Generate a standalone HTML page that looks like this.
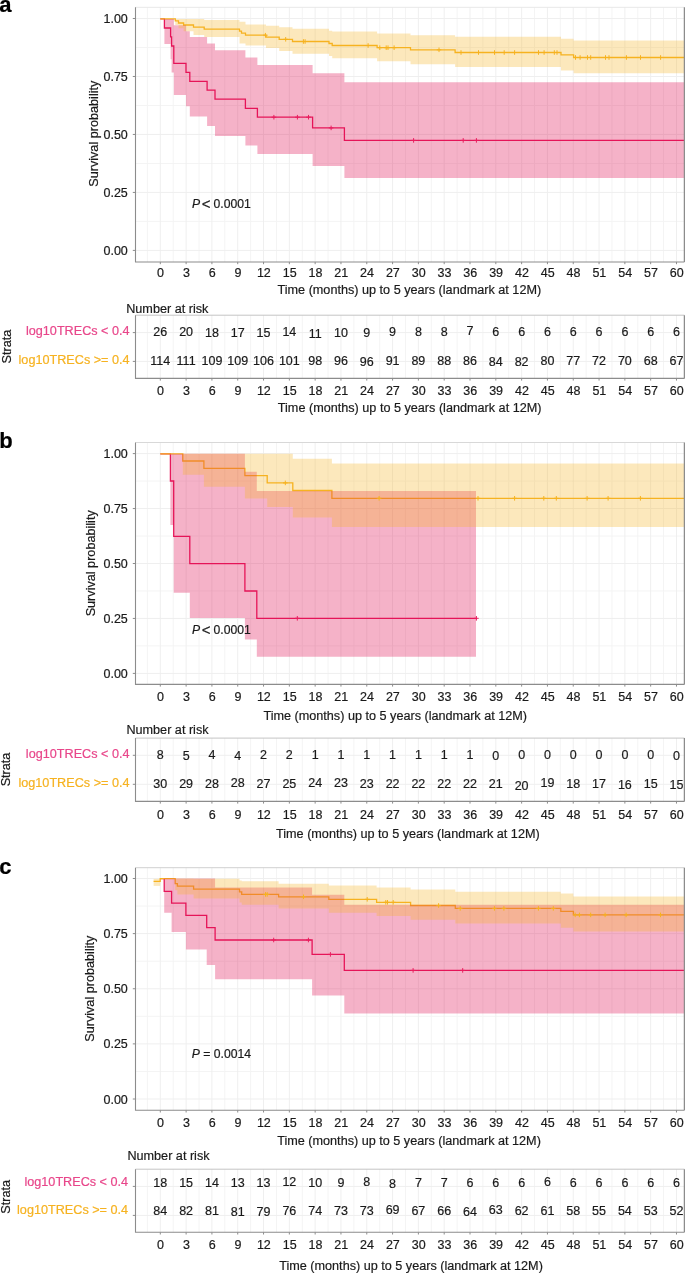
<!DOCTYPE html>
<html><head><meta charset="utf-8"><style>
html,body{margin:0;padding:0;background:#fff;}
svg{display:block;font-family:"Liberation Sans",sans-serif;will-change:transform;}
</style></head><body>
<svg width="685" height="1273" viewBox="0 0 685 1273">
<text x="-0.7" y="11.8" font-size="22" font-weight="bold" fill="#000" stroke="#000" stroke-width="0.2">a</text>
<path d="M147.40,7.3V262.0M173.20,7.3V262.0M199.01,7.3V262.0M224.82,7.3V262.0M250.63,7.3V262.0M276.44,7.3V262.0M302.25,7.3V262.0M328.06,7.3V262.0M353.87,7.3V262.0M379.68,7.3V262.0M405.49,7.3V262.0M431.29,7.3V262.0M457.10,7.3V262.0M482.91,7.3V262.0M508.72,7.3V262.0M534.53,7.3V262.0M560.34,7.3V262.0M586.15,7.3V262.0M611.96,7.3V262.0M637.77,7.3V262.0M663.58,7.3V262.0M135.5,221.41H684.4M135.5,163.44H684.4M135.5,105.46H684.4M135.5,47.49H684.4" stroke="#F4F4F4" stroke-width="1" fill="none"/>
<path d="M160.30,7.3V262.0M186.11,7.3V262.0M211.92,7.3V262.0M237.73,7.3V262.0M263.54,7.3V262.0M289.35,7.3V262.0M315.15,7.3V262.0M340.96,7.3V262.0M366.77,7.3V262.0M392.58,7.3V262.0M418.39,7.3V262.0M444.20,7.3V262.0M470.01,7.3V262.0M495.82,7.3V262.0M521.63,7.3V262.0M547.43,7.3V262.0M573.24,7.3V262.0M599.05,7.3V262.0M624.86,7.3V262.0M650.67,7.3V262.0M676.48,7.3V262.0M135.5,250.40H684.4M135.5,192.43H684.4M135.5,134.45H684.4M135.5,76.47H684.4M135.5,18.50H684.4" stroke="#EFEFEF" stroke-width="1" fill="none"/>
<g transform="translate(0,0.4)">
<path d="M160.30,18.50 L164.40,18.50 L164.40,27.60 L170.60,27.60 L170.60,36.40 L171.60,36.40 L171.60,45.60 L173.80,45.60 L173.80,62.90 L186.00,62.90 L186.00,72.00 L189.80,72.00 L189.80,81.00 L207.10,81.00 L207.10,89.80 L215.00,89.80 L215.00,98.80 L245.40,98.80 L245.40,107.90 L257.40,107.90 L257.40,116.80 L312.60,116.80 L312.60,127.50 L344.40,127.50 L344.40,140.00 L684.00,140.00" stroke="#E91E5F" stroke-width="1.3" fill="none"/>
<path d="M160.30,18.50 L175.30,18.50 L175.30,20.50 L178.50,20.50 L178.50,22.60 L183.60,22.60 L183.60,24.60 L193.50,24.60 L193.50,26.80 L204.20,26.80 L204.20,28.80 L239.50,28.80 L239.50,30.80 L241.50,30.80 L241.50,32.70 L245.50,32.70 L245.50,34.80 L266.00,34.80 L266.00,36.80 L279.20,36.80 L279.20,38.90 L292.50,38.90 L292.50,41.10 L329.00,41.10 L329.00,43.10 L332.20,43.10 L332.20,45.10 L377.10,45.10 L377.10,47.30 L410.50,47.30 L410.50,49.40 L455.10,49.40 L455.10,52.10 L561.00,52.10 L561.00,54.40 L573.60,54.40 L573.60,57.10 L684.00,57.10" stroke="#F6B220" stroke-width="1.3" fill="none"/>
<path d="M164.40,18.50 L170.60,18.50 L170.60,18.50 L171.60,18.50 L171.60,18.50 L173.80,18.50 L173.80,24.90 L186.00,24.90 L186.00,30.80 L189.80,30.80 L189.80,36.60 L207.10,36.60 L207.10,43.00 L215.00,43.00 L215.00,49.80 L245.40,49.80 L245.40,57.00 L257.40,57.00 L257.40,64.50 L312.60,64.50 L312.60,72.80 L344.40,72.80 L344.40,81.90 L684.00,81.90 L684.00,177.70 L344.40,177.70 L344.40,165.50 L312.60,165.50 L312.60,153.70 L257.40,153.70 L257.40,145.00 L245.40,145.00 L245.40,135.70 L215.00,135.70 L215.00,125.70 L207.10,125.70 L207.10,116.00 L189.80,116.00 L189.80,105.80 L186.00,105.80 L186.00,94.70 L173.80,94.70 L173.80,72.00 L171.60,72.00 L171.60,58.80 L170.60,58.80 L170.60,43.60 L164.40,43.60Z" fill="#DE0048" fill-opacity="0.3"/>
<path d="M175.30,18.50 L178.50,18.50 L178.50,18.50 L183.60,18.50 L183.60,18.50 L193.50,18.50 L193.50,18.50 L204.20,18.50 L204.20,19.70 L239.50,19.70 L239.50,21.40 L245.50,21.40 L245.50,24.10 L266.00,24.10 L266.00,25.30 L279.20,25.30 L279.20,26.80 L292.50,26.80 L292.50,28.40 L329.00,28.40 L329.00,30.30 L332.20,30.30 L332.20,31.10 L377.10,31.10 L377.10,33.10 L410.50,33.10 L410.50,34.90 L455.10,34.90 L455.10,36.30 L561.00,36.30 L561.00,38.30 L573.60,38.30 L573.60,40.20 L684.00,40.20 L684.00,72.80 L573.60,72.80 L573.60,70.00 L561.00,70.00 L561.00,66.50 L455.10,66.50 L455.10,63.80 L410.50,63.80 L410.50,60.90 L377.10,60.90 L377.10,57.90 L332.20,57.90 L332.20,55.60 L329.00,55.60 L329.00,53.30 L292.50,53.30 L292.50,50.60 L279.20,50.60 L279.20,47.70 L266.00,47.70 L266.00,45.10 L245.50,45.10 L245.50,43.00 L239.50,43.00 L239.50,36.60 L204.20,36.60 L204.20,34.50 L193.50,34.50 L193.50,30.90 L183.60,30.90 L183.60,27.80 L178.50,27.80 L178.50,24.50 L175.30,24.50Z" fill="#F6B220" fill-opacity="0.3"/>
<path d="M273.90,114.50v4.6M271.60,116.80h4.6M297.40,114.50v4.6M295.10,116.80h4.6M308.50,114.50v4.6M306.20,116.80h4.6M331.10,125.20v4.6M328.80,127.50h4.6M413.60,137.70v4.6M411.30,140.00h4.6M463.20,137.70v4.6M460.90,140.00h4.6M476.40,137.70v4.6M474.10,140.00h4.6" stroke="#E91E5F" stroke-width="1.0" fill="none"/>
<path d="M265.40,32.50v4.6M263.10,34.80h4.6M285.70,36.60v4.6M283.40,38.90h4.6M303.40,38.80v4.6M301.10,41.10h4.6M305.10,38.80v4.6M302.80,41.10h4.6M368.10,42.80v4.6M365.80,45.10h4.6M379.80,45.00v4.6M377.50,47.30h4.6M386.20,45.00v4.6M383.90,47.30h4.6M388.00,45.00v4.6M385.70,47.30h4.6M394.10,45.00v4.6M391.80,47.30h4.6M439.00,47.10v4.6M436.70,49.40h4.6M461.00,49.80v4.6M458.70,52.10h4.6M478.50,49.80v4.6M476.20,52.10h4.6M494.50,49.80v4.6M492.20,52.10h4.6M504.20,49.80v4.6M501.90,52.10h4.6M514.60,49.80v4.6M512.30,52.10h4.6M538.50,49.80v4.6M536.20,52.10h4.6M544.10,49.80v4.6M541.80,52.10h4.6M554.30,49.80v4.6M552.00,52.10h4.6M557.00,49.80v4.6M554.70,52.10h4.6M575.50,54.80v4.6M573.20,57.10h4.6M580.10,54.80v4.6M577.80,57.10h4.6M587.50,54.80v4.6M585.20,57.10h4.6M590.70,54.80v4.6M588.40,57.10h4.6M605.50,54.80v4.6M603.20,57.10h4.6M609.00,54.80v4.6M606.70,57.10h4.6M626.40,54.80v4.6M624.10,57.10h4.6M640.50,54.80v4.6M638.20,57.10h4.6M660.60,54.80v4.6M658.30,57.10h4.6" stroke="#F6B220" stroke-width="1.0" fill="none"/>
</g>
<path d="M135.5,7.3H684.4" stroke="#E8E8E8" stroke-width="1"/>
<path d="M684.4,7.3V262.0" stroke="#8C8C8C" stroke-width="1.3"/>
<path d="M135.5,7.3V262.0H684.4" stroke="#8C8C8C" stroke-width="1.1" fill="none"/>
<text x="127.8" y="254.90" text-anchor="end" font-size="12.5" fill="#1a1a1a" stroke="#1a1a1a" stroke-width="0.2">0.00</text>
<text x="127.8" y="196.93" text-anchor="end" font-size="12.5" fill="#1a1a1a" stroke="#1a1a1a" stroke-width="0.2">0.25</text>
<text x="127.8" y="138.95" text-anchor="end" font-size="12.5" fill="#1a1a1a" stroke="#1a1a1a" stroke-width="0.2">0.50</text>
<text x="127.8" y="80.97" text-anchor="end" font-size="12.5" fill="#1a1a1a" stroke="#1a1a1a" stroke-width="0.2">0.75</text>
<text x="127.8" y="23.00" text-anchor="end" font-size="12.5" fill="#1a1a1a" stroke="#1a1a1a" stroke-width="0.2">1.00</text>
<text x="160.60" y="277.0" text-anchor="middle" font-size="12.5" fill="#1a1a1a" stroke="#1a1a1a" stroke-width="0.2">0</text>
<text x="186.41" y="277.0" text-anchor="middle" font-size="12.5" fill="#1a1a1a" stroke="#1a1a1a" stroke-width="0.2">3</text>
<text x="212.22" y="277.0" text-anchor="middle" font-size="12.5" fill="#1a1a1a" stroke="#1a1a1a" stroke-width="0.2">6</text>
<text x="238.03" y="277.0" text-anchor="middle" font-size="12.5" fill="#1a1a1a" stroke="#1a1a1a" stroke-width="0.2">9</text>
<text x="263.84" y="277.0" text-anchor="middle" font-size="12.5" fill="#1a1a1a" stroke="#1a1a1a" stroke-width="0.2">12</text>
<text x="289.65" y="277.0" text-anchor="middle" font-size="12.5" fill="#1a1a1a" stroke="#1a1a1a" stroke-width="0.2">15</text>
<text x="315.45" y="277.0" text-anchor="middle" font-size="12.5" fill="#1a1a1a" stroke="#1a1a1a" stroke-width="0.2">18</text>
<text x="341.26" y="277.0" text-anchor="middle" font-size="12.5" fill="#1a1a1a" stroke="#1a1a1a" stroke-width="0.2">21</text>
<text x="367.07" y="277.0" text-anchor="middle" font-size="12.5" fill="#1a1a1a" stroke="#1a1a1a" stroke-width="0.2">24</text>
<text x="392.88" y="277.0" text-anchor="middle" font-size="12.5" fill="#1a1a1a" stroke="#1a1a1a" stroke-width="0.2">27</text>
<text x="418.69" y="277.0" text-anchor="middle" font-size="12.5" fill="#1a1a1a" stroke="#1a1a1a" stroke-width="0.2">30</text>
<text x="444.50" y="277.0" text-anchor="middle" font-size="12.5" fill="#1a1a1a" stroke="#1a1a1a" stroke-width="0.2">33</text>
<text x="470.31" y="277.0" text-anchor="middle" font-size="12.5" fill="#1a1a1a" stroke="#1a1a1a" stroke-width="0.2">36</text>
<text x="496.12" y="277.0" text-anchor="middle" font-size="12.5" fill="#1a1a1a" stroke="#1a1a1a" stroke-width="0.2">39</text>
<text x="521.93" y="277.0" text-anchor="middle" font-size="12.5" fill="#1a1a1a" stroke="#1a1a1a" stroke-width="0.2">42</text>
<text x="547.73" y="277.0" text-anchor="middle" font-size="12.5" fill="#1a1a1a" stroke="#1a1a1a" stroke-width="0.2">45</text>
<text x="573.54" y="277.0" text-anchor="middle" font-size="12.5" fill="#1a1a1a" stroke="#1a1a1a" stroke-width="0.2">48</text>
<text x="599.35" y="277.0" text-anchor="middle" font-size="12.5" fill="#1a1a1a" stroke="#1a1a1a" stroke-width="0.2">51</text>
<text x="625.16" y="277.0" text-anchor="middle" font-size="12.5" fill="#1a1a1a" stroke="#1a1a1a" stroke-width="0.2">54</text>
<text x="650.97" y="277.0" text-anchor="middle" font-size="12.5" fill="#1a1a1a" stroke="#1a1a1a" stroke-width="0.2">57</text>
<text x="676.78" y="277.0" text-anchor="middle" font-size="12.5" fill="#1a1a1a" stroke="#1a1a1a" stroke-width="0.2">60</text>
<path d="M132.8,250.40H135.5M132.8,192.43H135.5M132.8,134.45H135.5M132.8,76.47H135.5M132.8,18.50H135.5M160.30,262.0v2.2M186.11,262.0v2.2M211.92,262.0v2.2M237.73,262.0v2.2M263.54,262.0v2.2M289.35,262.0v2.2M315.15,262.0v2.2M340.96,262.0v2.2M366.77,262.0v2.2M392.58,262.0v2.2M418.39,262.0v2.2M444.20,262.0v2.2M470.01,262.0v2.2M495.82,262.0v2.2M521.63,262.0v2.2M547.43,262.0v2.2M573.24,262.0v2.2M599.05,262.0v2.2M624.86,262.0v2.2M650.67,262.0v2.2M676.48,262.0v2.2" stroke="#8C8C8C" stroke-width="1" fill="none"/>
<text x="277.5" y="293.9" font-size="12.65" fill="#1a1a1a" stroke="#1a1a1a" stroke-width="0.2">Time (months) up to 5 years (landmark at 12M)</text>
<text transform="translate(98.0,133.70) rotate(-90)" text-anchor="middle" font-size="12.65" fill="#1a1a1a" stroke="#1a1a1a" stroke-width="0.2">Survival probability</text>
<text x="191.9" y="207.6" font-size="12.2" font-style="italic" fill="#1a1a1a" stroke="#1a1a1a" stroke-width="0.2">P</text>
<text x="206.20000000000002" y="208.6" font-size="15" text-anchor="middle" fill="#1a1a1a" stroke="#1a1a1a" stroke-width="0.2">&lt;</text>
<text x="213.5" y="207.6" font-size="12.2" fill="#1a1a1a" stroke="#1a1a1a" stroke-width="0.2">0.0001</text>
<text x="126.2" y="312.8" font-size="12.65" fill="#1a1a1a" stroke="#1a1a1a" stroke-width="0.2">Number at risk</text>
<path d="M147.40,315.2V378.4M173.20,315.2V378.4M199.01,315.2V378.4M224.82,315.2V378.4M250.63,315.2V378.4M276.44,315.2V378.4M302.25,315.2V378.4M328.06,315.2V378.4M353.87,315.2V378.4M379.68,315.2V378.4M405.49,315.2V378.4M431.29,315.2V378.4M457.10,315.2V378.4M482.91,315.2V378.4M508.72,315.2V378.4M534.53,315.2V378.4M560.34,315.2V378.4M586.15,315.2V378.4M611.96,315.2V378.4M637.77,315.2V378.4M663.58,315.2V378.4" stroke="#F4F4F4" stroke-width="1" fill="none"/>
<path d="M160.30,315.2V378.4M186.11,315.2V378.4M211.92,315.2V378.4M237.73,315.2V378.4M263.54,315.2V378.4M289.35,315.2V378.4M315.15,315.2V378.4M340.96,315.2V378.4M366.77,315.2V378.4M392.58,315.2V378.4M418.39,315.2V378.4M444.20,315.2V378.4M470.01,315.2V378.4M495.82,315.2V378.4M521.63,315.2V378.4M547.43,315.2V378.4M573.24,315.2V378.4M599.05,315.2V378.4M624.86,315.2V378.4M650.67,315.2V378.4M676.48,315.2V378.4M135.5,332.6H684.4M135.5,361.4H684.4" stroke="#EFEFEF" stroke-width="1" fill="none"/>
<path d="M135.5,315.2H684.4" stroke="#C4C4C4" stroke-width="1"/>
<path d="M684.4,315.2V378.4" stroke="#8C8C8C" stroke-width="1.3"/>
<path d="M135.5,315.2V378.4H684.4" stroke="#8C8C8C" stroke-width="1.1" fill="none"/>
<text x="160.60" y="395.3" text-anchor="middle" font-size="12.5" fill="#1a1a1a" stroke="#1a1a1a" stroke-width="0.2">0</text>
<text x="186.41" y="395.3" text-anchor="middle" font-size="12.5" fill="#1a1a1a" stroke="#1a1a1a" stroke-width="0.2">3</text>
<text x="212.22" y="395.3" text-anchor="middle" font-size="12.5" fill="#1a1a1a" stroke="#1a1a1a" stroke-width="0.2">6</text>
<text x="238.03" y="395.3" text-anchor="middle" font-size="12.5" fill="#1a1a1a" stroke="#1a1a1a" stroke-width="0.2">9</text>
<text x="263.84" y="395.3" text-anchor="middle" font-size="12.5" fill="#1a1a1a" stroke="#1a1a1a" stroke-width="0.2">12</text>
<text x="289.65" y="395.3" text-anchor="middle" font-size="12.5" fill="#1a1a1a" stroke="#1a1a1a" stroke-width="0.2">15</text>
<text x="315.45" y="395.3" text-anchor="middle" font-size="12.5" fill="#1a1a1a" stroke="#1a1a1a" stroke-width="0.2">18</text>
<text x="341.26" y="395.3" text-anchor="middle" font-size="12.5" fill="#1a1a1a" stroke="#1a1a1a" stroke-width="0.2">21</text>
<text x="367.07" y="395.3" text-anchor="middle" font-size="12.5" fill="#1a1a1a" stroke="#1a1a1a" stroke-width="0.2">24</text>
<text x="392.88" y="395.3" text-anchor="middle" font-size="12.5" fill="#1a1a1a" stroke="#1a1a1a" stroke-width="0.2">27</text>
<text x="418.69" y="395.3" text-anchor="middle" font-size="12.5" fill="#1a1a1a" stroke="#1a1a1a" stroke-width="0.2">30</text>
<text x="444.50" y="395.3" text-anchor="middle" font-size="12.5" fill="#1a1a1a" stroke="#1a1a1a" stroke-width="0.2">33</text>
<text x="470.31" y="395.3" text-anchor="middle" font-size="12.5" fill="#1a1a1a" stroke="#1a1a1a" stroke-width="0.2">36</text>
<text x="496.12" y="395.3" text-anchor="middle" font-size="12.5" fill="#1a1a1a" stroke="#1a1a1a" stroke-width="0.2">39</text>
<text x="521.93" y="395.3" text-anchor="middle" font-size="12.5" fill="#1a1a1a" stroke="#1a1a1a" stroke-width="0.2">42</text>
<text x="547.73" y="395.3" text-anchor="middle" font-size="12.5" fill="#1a1a1a" stroke="#1a1a1a" stroke-width="0.2">45</text>
<text x="573.54" y="395.3" text-anchor="middle" font-size="12.5" fill="#1a1a1a" stroke="#1a1a1a" stroke-width="0.2">48</text>
<text x="599.35" y="395.3" text-anchor="middle" font-size="12.5" fill="#1a1a1a" stroke="#1a1a1a" stroke-width="0.2">51</text>
<text x="625.16" y="395.3" text-anchor="middle" font-size="12.5" fill="#1a1a1a" stroke="#1a1a1a" stroke-width="0.2">54</text>
<text x="650.97" y="395.3" text-anchor="middle" font-size="12.5" fill="#1a1a1a" stroke="#1a1a1a" stroke-width="0.2">57</text>
<text x="676.78" y="395.3" text-anchor="middle" font-size="12.5" fill="#1a1a1a" stroke="#1a1a1a" stroke-width="0.2">60</text>
<path d="M132.8,332.6H135.5M132.8,361.4H135.5M160.30,378.4v2.2M186.11,378.4v2.2M211.92,378.4v2.2M237.73,378.4v2.2M263.54,378.4v2.2M289.35,378.4v2.2M315.15,378.4v2.2M340.96,378.4v2.2M366.77,378.4v2.2M392.58,378.4v2.2M418.39,378.4v2.2M444.20,378.4v2.2M470.01,378.4v2.2M495.82,378.4v2.2M521.63,378.4v2.2M547.43,378.4v2.2M573.24,378.4v2.2M599.05,378.4v2.2M624.86,378.4v2.2M650.67,378.4v2.2M676.48,378.4v2.2" stroke="#8C8C8C" stroke-width="1" fill="none"/>
<text x="160.30" y="336.40" text-anchor="middle" font-size="12.5" fill="#1a1a1a" stroke="#1a1a1a" stroke-width="0.2">26</text>
<text x="186.11" y="336.40" text-anchor="middle" font-size="12.5" fill="#1a1a1a" stroke="#1a1a1a" stroke-width="0.2">20</text>
<text x="211.92" y="337.10" text-anchor="middle" font-size="12.5" fill="#1a1a1a" stroke="#1a1a1a" stroke-width="0.2">18</text>
<text x="237.73" y="337.10" text-anchor="middle" font-size="12.5" fill="#1a1a1a" stroke="#1a1a1a" stroke-width="0.2">17</text>
<text x="263.54" y="337.10" text-anchor="middle" font-size="12.5" fill="#1a1a1a" stroke="#1a1a1a" stroke-width="0.2">15</text>
<text x="289.35" y="336.40" text-anchor="middle" font-size="12.5" fill="#1a1a1a" stroke="#1a1a1a" stroke-width="0.2">14</text>
<text x="315.15" y="337.60" text-anchor="middle" font-size="12.5" fill="#1a1a1a" stroke="#1a1a1a" stroke-width="0.2">11</text>
<text x="340.96" y="337.10" text-anchor="middle" font-size="12.5" fill="#1a1a1a" stroke="#1a1a1a" stroke-width="0.2">10</text>
<text x="366.77" y="337.10" text-anchor="middle" font-size="12.5" fill="#1a1a1a" stroke="#1a1a1a" stroke-width="0.2">9</text>
<text x="392.58" y="336.40" text-anchor="middle" font-size="12.5" fill="#1a1a1a" stroke="#1a1a1a" stroke-width="0.2">9</text>
<text x="418.39" y="336.40" text-anchor="middle" font-size="12.5" fill="#1a1a1a" stroke="#1a1a1a" stroke-width="0.2">8</text>
<text x="444.20" y="336.40" text-anchor="middle" font-size="12.5" fill="#1a1a1a" stroke="#1a1a1a" stroke-width="0.2">8</text>
<text x="470.01" y="335.40" text-anchor="middle" font-size="12.5" fill="#1a1a1a" stroke="#1a1a1a" stroke-width="0.2">7</text>
<text x="495.82" y="336.40" text-anchor="middle" font-size="12.5" fill="#1a1a1a" stroke="#1a1a1a" stroke-width="0.2">6</text>
<text x="521.63" y="336.40" text-anchor="middle" font-size="12.5" fill="#1a1a1a" stroke="#1a1a1a" stroke-width="0.2">6</text>
<text x="547.43" y="336.40" text-anchor="middle" font-size="12.5" fill="#1a1a1a" stroke="#1a1a1a" stroke-width="0.2">6</text>
<text x="573.24" y="336.40" text-anchor="middle" font-size="12.5" fill="#1a1a1a" stroke="#1a1a1a" stroke-width="0.2">6</text>
<text x="599.05" y="336.40" text-anchor="middle" font-size="12.5" fill="#1a1a1a" stroke="#1a1a1a" stroke-width="0.2">6</text>
<text x="624.86" y="336.40" text-anchor="middle" font-size="12.5" fill="#1a1a1a" stroke="#1a1a1a" stroke-width="0.2">6</text>
<text x="650.67" y="336.40" text-anchor="middle" font-size="12.5" fill="#1a1a1a" stroke="#1a1a1a" stroke-width="0.2">6</text>
<text x="676.48" y="336.40" text-anchor="middle" font-size="12.5" fill="#1a1a1a" stroke="#1a1a1a" stroke-width="0.2">6</text>
<text x="160.30" y="365.00" text-anchor="middle" font-size="12.5" fill="#1a1a1a" stroke="#1a1a1a" stroke-width="0.2">114</text>
<text x="186.11" y="365.00" text-anchor="middle" font-size="12.5" fill="#1a1a1a" stroke="#1a1a1a" stroke-width="0.2">111</text>
<text x="211.92" y="365.00" text-anchor="middle" font-size="12.5" fill="#1a1a1a" stroke="#1a1a1a" stroke-width="0.2">109</text>
<text x="237.73" y="365.00" text-anchor="middle" font-size="12.5" fill="#1a1a1a" stroke="#1a1a1a" stroke-width="0.2">109</text>
<text x="263.54" y="365.00" text-anchor="middle" font-size="12.5" fill="#1a1a1a" stroke="#1a1a1a" stroke-width="0.2">106</text>
<text x="289.35" y="365.00" text-anchor="middle" font-size="12.5" fill="#1a1a1a" stroke="#1a1a1a" stroke-width="0.2">101</text>
<text x="315.15" y="365.00" text-anchor="middle" font-size="12.5" fill="#1a1a1a" stroke="#1a1a1a" stroke-width="0.2">98</text>
<text x="340.96" y="365.00" text-anchor="middle" font-size="12.5" fill="#1a1a1a" stroke="#1a1a1a" stroke-width="0.2">96</text>
<text x="366.77" y="365.90" text-anchor="middle" font-size="12.5" fill="#1a1a1a" stroke="#1a1a1a" stroke-width="0.2">96</text>
<text x="392.58" y="365.00" text-anchor="middle" font-size="12.5" fill="#1a1a1a" stroke="#1a1a1a" stroke-width="0.2">91</text>
<text x="418.39" y="365.00" text-anchor="middle" font-size="12.5" fill="#1a1a1a" stroke="#1a1a1a" stroke-width="0.2">89</text>
<text x="444.20" y="365.00" text-anchor="middle" font-size="12.5" fill="#1a1a1a" stroke="#1a1a1a" stroke-width="0.2">88</text>
<text x="470.01" y="365.00" text-anchor="middle" font-size="12.5" fill="#1a1a1a" stroke="#1a1a1a" stroke-width="0.2">86</text>
<text x="495.82" y="365.90" text-anchor="middle" font-size="12.5" fill="#1a1a1a" stroke="#1a1a1a" stroke-width="0.2">84</text>
<text x="521.63" y="365.90" text-anchor="middle" font-size="12.5" fill="#1a1a1a" stroke="#1a1a1a" stroke-width="0.2">82</text>
<text x="547.43" y="365.00" text-anchor="middle" font-size="12.5" fill="#1a1a1a" stroke="#1a1a1a" stroke-width="0.2">80</text>
<text x="573.24" y="365.00" text-anchor="middle" font-size="12.5" fill="#1a1a1a" stroke="#1a1a1a" stroke-width="0.2">77</text>
<text x="599.05" y="365.00" text-anchor="middle" font-size="12.5" fill="#1a1a1a" stroke="#1a1a1a" stroke-width="0.2">72</text>
<text x="624.86" y="365.00" text-anchor="middle" font-size="12.5" fill="#1a1a1a" stroke="#1a1a1a" stroke-width="0.2">70</text>
<text x="650.67" y="365.00" text-anchor="middle" font-size="12.5" fill="#1a1a1a" stroke="#1a1a1a" stroke-width="0.2">68</text>
<text x="676.48" y="365.00" text-anchor="middle" font-size="12.5" fill="#1a1a1a" stroke="#1a1a1a" stroke-width="0.2">67</text>
<text x="129.6" y="334.90" text-anchor="end" font-size="12.65" fill="#E8468A" stroke="#E8468A" stroke-width="0.2">log10TRECs &lt; 0.4</text>
<text x="129.6" y="363.70" text-anchor="end" font-size="12.65" fill="#F6B220" stroke="#F6B220" stroke-width="0.2">log10TRECs &gt;= 0.4</text>
<text transform="translate(10.8,346.60) rotate(-90)" text-anchor="middle" font-size="12.65" fill="#1a1a1a" stroke="#1a1a1a" stroke-width="0.2">Strata</text>
<text x="277.8" y="412.1" font-size="12.65" fill="#1a1a1a" stroke="#1a1a1a" stroke-width="0.2">Time (months) up to 5 years (landmark at 12M)</text>
<text x="-0.7" y="447.6" font-size="22" font-weight="bold" fill="#000" stroke="#000" stroke-width="0.2">b</text>
<path d="M147.40,442.5V684.4M173.20,442.5V684.4M199.01,442.5V684.4M224.82,442.5V684.4M250.63,442.5V684.4M276.44,442.5V684.4M302.25,442.5V684.4M328.06,442.5V684.4M353.87,442.5V684.4M379.68,442.5V684.4M405.49,442.5V684.4M431.29,442.5V684.4M457.10,442.5V684.4M482.91,442.5V684.4M508.72,442.5V684.4M534.53,442.5V684.4M560.34,442.5V684.4M586.15,442.5V684.4M611.96,442.5V684.4M637.77,442.5V684.4M663.58,442.5V684.4M135.5,645.92H684.4M135.5,590.98H684.4M135.5,536.02H684.4M135.5,481.08H684.4" stroke="#F4F4F4" stroke-width="1" fill="none"/>
<path d="M160.30,442.5V684.4M186.11,442.5V684.4M211.92,442.5V684.4M237.73,442.5V684.4M263.54,442.5V684.4M289.35,442.5V684.4M315.15,442.5V684.4M340.96,442.5V684.4M366.77,442.5V684.4M392.58,442.5V684.4M418.39,442.5V684.4M444.20,442.5V684.4M470.01,442.5V684.4M495.82,442.5V684.4M521.63,442.5V684.4M547.43,442.5V684.4M573.24,442.5V684.4M599.05,442.5V684.4M624.86,442.5V684.4M650.67,442.5V684.4M676.48,442.5V684.4M135.5,673.40H684.4M135.5,618.45H684.4M135.5,563.50H684.4M135.5,508.55H684.4M135.5,453.60H684.4" stroke="#EFEFEF" stroke-width="1" fill="none"/>
<g transform="translate(0,0)">
<path d="M160.30,453.80 L170.40,453.80 L170.40,481.00 L173.70,481.00 L173.70,536.40 L189.80,536.40 L189.80,563.60 L244.90,563.60 L244.90,591.00 L256.80,591.00 L256.80,618.30 L476.40,618.30" stroke="#E91E5F" stroke-width="1.3" fill="none"/>
<path d="M160.30,453.80 L182.80,453.80 L182.80,461.00 L203.90,461.00 L203.90,468.40 L244.90,468.40 L244.90,475.60 L267.20,475.60 L267.20,482.90 L292.80,482.90 L292.80,490.50 L331.90,490.50 L331.90,498.30 L684.00,498.30" stroke="#F6B220" stroke-width="1.3" fill="none"/>
<path d="M170.40,453.80 L173.70,453.80 L173.70,453.80 L189.80,453.80 L189.80,453.80 L244.90,453.80 L244.90,471.80 L256.80,471.80 L256.80,490.90 L476.00,490.90 L476.00,656.70 L256.80,656.70 L256.80,639.40 L244.90,639.40 L244.90,618.00 L189.80,618.00 L189.80,592.70 L173.70,592.70 L173.70,524.90 L170.40,524.90Z" fill="#DE0048" fill-opacity="0.3"/>
<path d="M182.80,453.80 L203.90,453.80 L203.90,453.80 L244.90,453.80 L244.90,453.80 L267.20,453.80 L267.20,453.80 L292.80,453.80 L292.80,458.70 L331.90,458.70 L331.90,463.40 L684.00,463.40 L684.00,527.00 L331.90,527.00 L331.90,517.50 L292.80,517.50 L292.80,507.00 L267.20,507.00 L267.20,498.40 L244.90,498.40 L244.90,486.70 L203.90,486.70 L203.90,474.80 L182.80,474.80Z" fill="#F6B220" fill-opacity="0.3"/>
<path d="M297.30,616.00v4.6M295.00,618.30h4.6M476.40,616.00v4.6M474.10,618.30h4.6" stroke="#E91E5F" stroke-width="1.0" fill="none"/>
<path d="M285.30,480.60v4.6M283.00,482.90h4.6M379.10,496.00v4.6M376.80,498.30h4.6M478.00,496.00v4.6M475.70,498.30h4.6M514.60,496.00v4.6M512.30,498.30h4.6M543.80,496.00v4.6M541.50,498.30h4.6M556.30,496.00v4.6M554.00,498.30h4.6M587.10,496.00v4.6M584.80,498.30h4.6M608.10,496.00v4.6M605.80,498.30h4.6M640.40,496.00v4.6M638.10,498.30h4.6" stroke="#F6B220" stroke-width="1.0" fill="none"/>
</g>
<path d="M135.5,442.5H684.4" stroke="#D8D8D8" stroke-width="1"/>
<path d="M684.4,442.5V684.4" stroke="#8C8C8C" stroke-width="1.3"/>
<path d="M135.5,442.5V684.4H684.4" stroke="#8C8C8C" stroke-width="1.1" fill="none"/>
<text x="127.8" y="677.90" text-anchor="end" font-size="12.5" fill="#1a1a1a" stroke="#1a1a1a" stroke-width="0.2">0.00</text>
<text x="127.8" y="622.95" text-anchor="end" font-size="12.5" fill="#1a1a1a" stroke="#1a1a1a" stroke-width="0.2">0.25</text>
<text x="127.8" y="568.00" text-anchor="end" font-size="12.5" fill="#1a1a1a" stroke="#1a1a1a" stroke-width="0.2">0.50</text>
<text x="127.8" y="513.05" text-anchor="end" font-size="12.5" fill="#1a1a1a" stroke="#1a1a1a" stroke-width="0.2">0.75</text>
<text x="127.8" y="458.10" text-anchor="end" font-size="12.5" fill="#1a1a1a" stroke="#1a1a1a" stroke-width="0.2">1.00</text>
<text x="160.60" y="701.0" text-anchor="middle" font-size="12.5" fill="#1a1a1a" stroke="#1a1a1a" stroke-width="0.2">0</text>
<text x="186.41" y="701.0" text-anchor="middle" font-size="12.5" fill="#1a1a1a" stroke="#1a1a1a" stroke-width="0.2">3</text>
<text x="212.22" y="701.0" text-anchor="middle" font-size="12.5" fill="#1a1a1a" stroke="#1a1a1a" stroke-width="0.2">6</text>
<text x="238.03" y="701.0" text-anchor="middle" font-size="12.5" fill="#1a1a1a" stroke="#1a1a1a" stroke-width="0.2">9</text>
<text x="263.84" y="701.0" text-anchor="middle" font-size="12.5" fill="#1a1a1a" stroke="#1a1a1a" stroke-width="0.2">12</text>
<text x="289.65" y="701.0" text-anchor="middle" font-size="12.5" fill="#1a1a1a" stroke="#1a1a1a" stroke-width="0.2">15</text>
<text x="315.45" y="701.0" text-anchor="middle" font-size="12.5" fill="#1a1a1a" stroke="#1a1a1a" stroke-width="0.2">18</text>
<text x="341.26" y="701.0" text-anchor="middle" font-size="12.5" fill="#1a1a1a" stroke="#1a1a1a" stroke-width="0.2">21</text>
<text x="367.07" y="701.0" text-anchor="middle" font-size="12.5" fill="#1a1a1a" stroke="#1a1a1a" stroke-width="0.2">24</text>
<text x="392.88" y="701.0" text-anchor="middle" font-size="12.5" fill="#1a1a1a" stroke="#1a1a1a" stroke-width="0.2">27</text>
<text x="418.69" y="701.0" text-anchor="middle" font-size="12.5" fill="#1a1a1a" stroke="#1a1a1a" stroke-width="0.2">30</text>
<text x="444.50" y="701.0" text-anchor="middle" font-size="12.5" fill="#1a1a1a" stroke="#1a1a1a" stroke-width="0.2">33</text>
<text x="470.31" y="701.0" text-anchor="middle" font-size="12.5" fill="#1a1a1a" stroke="#1a1a1a" stroke-width="0.2">36</text>
<text x="496.12" y="701.0" text-anchor="middle" font-size="12.5" fill="#1a1a1a" stroke="#1a1a1a" stroke-width="0.2">39</text>
<text x="521.93" y="701.0" text-anchor="middle" font-size="12.5" fill="#1a1a1a" stroke="#1a1a1a" stroke-width="0.2">42</text>
<text x="547.73" y="701.0" text-anchor="middle" font-size="12.5" fill="#1a1a1a" stroke="#1a1a1a" stroke-width="0.2">45</text>
<text x="573.54" y="701.0" text-anchor="middle" font-size="12.5" fill="#1a1a1a" stroke="#1a1a1a" stroke-width="0.2">48</text>
<text x="599.35" y="701.0" text-anchor="middle" font-size="12.5" fill="#1a1a1a" stroke="#1a1a1a" stroke-width="0.2">51</text>
<text x="625.16" y="701.0" text-anchor="middle" font-size="12.5" fill="#1a1a1a" stroke="#1a1a1a" stroke-width="0.2">54</text>
<text x="650.97" y="701.0" text-anchor="middle" font-size="12.5" fill="#1a1a1a" stroke="#1a1a1a" stroke-width="0.2">57</text>
<text x="676.78" y="701.0" text-anchor="middle" font-size="12.5" fill="#1a1a1a" stroke="#1a1a1a" stroke-width="0.2">60</text>
<path d="M132.8,673.40H135.5M132.8,618.45H135.5M132.8,563.50H135.5M132.8,508.55H135.5M132.8,453.60H135.5M160.30,684.4v2.2M186.11,684.4v2.2M211.92,684.4v2.2M237.73,684.4v2.2M263.54,684.4v2.2M289.35,684.4v2.2M315.15,684.4v2.2M340.96,684.4v2.2M366.77,684.4v2.2M392.58,684.4v2.2M418.39,684.4v2.2M444.20,684.4v2.2M470.01,684.4v2.2M495.82,684.4v2.2M521.63,684.4v2.2M547.43,684.4v2.2M573.24,684.4v2.2M599.05,684.4v2.2M624.86,684.4v2.2M650.67,684.4v2.2M676.48,684.4v2.2" stroke="#8C8C8C" stroke-width="1" fill="none"/>
<text x="263.4" y="719.9" font-size="12.65" fill="#1a1a1a" stroke="#1a1a1a" stroke-width="0.2">Time (months) up to 5 years (landmark at 12M)</text>
<text transform="translate(95.0,563.30) rotate(-90)" text-anchor="middle" font-size="12.65" fill="#1a1a1a" stroke="#1a1a1a" stroke-width="0.2">Survival probability</text>
<text x="191.9" y="633.6" font-size="12.2" font-style="italic" fill="#1a1a1a" stroke="#1a1a1a" stroke-width="0.2">P</text>
<text x="206.20000000000002" y="634.6" font-size="15" text-anchor="middle" fill="#1a1a1a" stroke="#1a1a1a" stroke-width="0.2">&lt;</text>
<text x="213.5" y="633.6" font-size="12.2" fill="#1a1a1a" stroke="#1a1a1a" stroke-width="0.2">0.0001</text>
<text x="126.4" y="734.0" font-size="12.65" fill="#1a1a1a" stroke="#1a1a1a" stroke-width="0.2">Number at risk</text>
<path d="M147.40,738.1V801.4M173.20,738.1V801.4M199.01,738.1V801.4M224.82,738.1V801.4M250.63,738.1V801.4M276.44,738.1V801.4M302.25,738.1V801.4M328.06,738.1V801.4M353.87,738.1V801.4M379.68,738.1V801.4M405.49,738.1V801.4M431.29,738.1V801.4M457.10,738.1V801.4M482.91,738.1V801.4M508.72,738.1V801.4M534.53,738.1V801.4M560.34,738.1V801.4M586.15,738.1V801.4M611.96,738.1V801.4M637.77,738.1V801.4M663.58,738.1V801.4" stroke="#F4F4F4" stroke-width="1" fill="none"/>
<path d="M160.30,738.1V801.4M186.11,738.1V801.4M211.92,738.1V801.4M237.73,738.1V801.4M263.54,738.1V801.4M289.35,738.1V801.4M315.15,738.1V801.4M340.96,738.1V801.4M366.77,738.1V801.4M392.58,738.1V801.4M418.39,738.1V801.4M444.20,738.1V801.4M470.01,738.1V801.4M495.82,738.1V801.4M521.63,738.1V801.4M547.43,738.1V801.4M573.24,738.1V801.4M599.05,738.1V801.4M624.86,738.1V801.4M650.67,738.1V801.4M676.48,738.1V801.4M135.5,755.3H684.4M135.5,784.3H684.4" stroke="#EFEFEF" stroke-width="1" fill="none"/>
<path d="M135.5,738.1H684.4" stroke="#C4C4C4" stroke-width="1"/>
<path d="M684.4,738.1V801.4" stroke="#8C8C8C" stroke-width="1.3"/>
<path d="M135.5,738.1V801.4H684.4" stroke="#8C8C8C" stroke-width="1.1" fill="none"/>
<text x="160.60" y="818.9" text-anchor="middle" font-size="12.5" fill="#1a1a1a" stroke="#1a1a1a" stroke-width="0.2">0</text>
<text x="186.41" y="818.9" text-anchor="middle" font-size="12.5" fill="#1a1a1a" stroke="#1a1a1a" stroke-width="0.2">3</text>
<text x="212.22" y="818.9" text-anchor="middle" font-size="12.5" fill="#1a1a1a" stroke="#1a1a1a" stroke-width="0.2">6</text>
<text x="238.03" y="818.9" text-anchor="middle" font-size="12.5" fill="#1a1a1a" stroke="#1a1a1a" stroke-width="0.2">9</text>
<text x="263.84" y="818.9" text-anchor="middle" font-size="12.5" fill="#1a1a1a" stroke="#1a1a1a" stroke-width="0.2">12</text>
<text x="289.65" y="818.9" text-anchor="middle" font-size="12.5" fill="#1a1a1a" stroke="#1a1a1a" stroke-width="0.2">15</text>
<text x="315.45" y="818.9" text-anchor="middle" font-size="12.5" fill="#1a1a1a" stroke="#1a1a1a" stroke-width="0.2">18</text>
<text x="341.26" y="818.9" text-anchor="middle" font-size="12.5" fill="#1a1a1a" stroke="#1a1a1a" stroke-width="0.2">21</text>
<text x="367.07" y="818.9" text-anchor="middle" font-size="12.5" fill="#1a1a1a" stroke="#1a1a1a" stroke-width="0.2">24</text>
<text x="392.88" y="818.9" text-anchor="middle" font-size="12.5" fill="#1a1a1a" stroke="#1a1a1a" stroke-width="0.2">27</text>
<text x="418.69" y="818.9" text-anchor="middle" font-size="12.5" fill="#1a1a1a" stroke="#1a1a1a" stroke-width="0.2">30</text>
<text x="444.50" y="818.9" text-anchor="middle" font-size="12.5" fill="#1a1a1a" stroke="#1a1a1a" stroke-width="0.2">33</text>
<text x="470.31" y="818.9" text-anchor="middle" font-size="12.5" fill="#1a1a1a" stroke="#1a1a1a" stroke-width="0.2">36</text>
<text x="496.12" y="818.9" text-anchor="middle" font-size="12.5" fill="#1a1a1a" stroke="#1a1a1a" stroke-width="0.2">39</text>
<text x="521.93" y="818.9" text-anchor="middle" font-size="12.5" fill="#1a1a1a" stroke="#1a1a1a" stroke-width="0.2">42</text>
<text x="547.73" y="818.9" text-anchor="middle" font-size="12.5" fill="#1a1a1a" stroke="#1a1a1a" stroke-width="0.2">45</text>
<text x="573.54" y="818.9" text-anchor="middle" font-size="12.5" fill="#1a1a1a" stroke="#1a1a1a" stroke-width="0.2">48</text>
<text x="599.35" y="818.9" text-anchor="middle" font-size="12.5" fill="#1a1a1a" stroke="#1a1a1a" stroke-width="0.2">51</text>
<text x="625.16" y="818.9" text-anchor="middle" font-size="12.5" fill="#1a1a1a" stroke="#1a1a1a" stroke-width="0.2">54</text>
<text x="650.97" y="818.9" text-anchor="middle" font-size="12.5" fill="#1a1a1a" stroke="#1a1a1a" stroke-width="0.2">57</text>
<text x="676.78" y="818.9" text-anchor="middle" font-size="12.5" fill="#1a1a1a" stroke="#1a1a1a" stroke-width="0.2">60</text>
<path d="M132.8,755.3H135.5M132.8,784.3H135.5M160.30,801.4v2.2M186.11,801.4v2.2M211.92,801.4v2.2M237.73,801.4v2.2M263.54,801.4v2.2M289.35,801.4v2.2M315.15,801.4v2.2M340.96,801.4v2.2M366.77,801.4v2.2M392.58,801.4v2.2M418.39,801.4v2.2M444.20,801.4v2.2M470.01,801.4v2.2M495.82,801.4v2.2M521.63,801.4v2.2M547.43,801.4v2.2M573.24,801.4v2.2M599.05,801.4v2.2M624.86,801.4v2.2M650.67,801.4v2.2M676.48,801.4v2.2" stroke="#8C8C8C" stroke-width="1" fill="none"/>
<text x="160.30" y="759.20" text-anchor="middle" font-size="12.5" fill="#1a1a1a" stroke="#1a1a1a" stroke-width="0.2">8</text>
<text x="186.11" y="759.90" text-anchor="middle" font-size="12.5" fill="#1a1a1a" stroke="#1a1a1a" stroke-width="0.2">5</text>
<text x="211.92" y="758.80" text-anchor="middle" font-size="12.5" fill="#1a1a1a" stroke="#1a1a1a" stroke-width="0.2">4</text>
<text x="237.73" y="759.90" text-anchor="middle" font-size="12.5" fill="#1a1a1a" stroke="#1a1a1a" stroke-width="0.2">4</text>
<text x="263.54" y="758.80" text-anchor="middle" font-size="12.5" fill="#1a1a1a" stroke="#1a1a1a" stroke-width="0.2">2</text>
<text x="289.35" y="758.80" text-anchor="middle" font-size="12.5" fill="#1a1a1a" stroke="#1a1a1a" stroke-width="0.2">2</text>
<text x="315.15" y="758.80" text-anchor="middle" font-size="12.5" fill="#1a1a1a" stroke="#1a1a1a" stroke-width="0.2">1</text>
<text x="340.96" y="758.80" text-anchor="middle" font-size="12.5" fill="#1a1a1a" stroke="#1a1a1a" stroke-width="0.2">1</text>
<text x="366.77" y="758.80" text-anchor="middle" font-size="12.5" fill="#1a1a1a" stroke="#1a1a1a" stroke-width="0.2">1</text>
<text x="392.58" y="758.80" text-anchor="middle" font-size="12.5" fill="#1a1a1a" stroke="#1a1a1a" stroke-width="0.2">1</text>
<text x="418.39" y="758.80" text-anchor="middle" font-size="12.5" fill="#1a1a1a" stroke="#1a1a1a" stroke-width="0.2">1</text>
<text x="444.20" y="758.80" text-anchor="middle" font-size="12.5" fill="#1a1a1a" stroke="#1a1a1a" stroke-width="0.2">1</text>
<text x="470.01" y="758.70" text-anchor="middle" font-size="12.5" fill="#1a1a1a" stroke="#1a1a1a" stroke-width="0.2">1</text>
<text x="495.82" y="760.40" text-anchor="middle" font-size="12.5" fill="#1a1a1a" stroke="#1a1a1a" stroke-width="0.2">0</text>
<text x="521.63" y="759.40" text-anchor="middle" font-size="12.5" fill="#1a1a1a" stroke="#1a1a1a" stroke-width="0.2">0</text>
<text x="547.43" y="759.40" text-anchor="middle" font-size="12.5" fill="#1a1a1a" stroke="#1a1a1a" stroke-width="0.2">0</text>
<text x="573.24" y="759.40" text-anchor="middle" font-size="12.5" fill="#1a1a1a" stroke="#1a1a1a" stroke-width="0.2">0</text>
<text x="599.05" y="758.70" text-anchor="middle" font-size="12.5" fill="#1a1a1a" stroke="#1a1a1a" stroke-width="0.2">0</text>
<text x="624.86" y="759.40" text-anchor="middle" font-size="12.5" fill="#1a1a1a" stroke="#1a1a1a" stroke-width="0.2">0</text>
<text x="650.67" y="759.40" text-anchor="middle" font-size="12.5" fill="#1a1a1a" stroke="#1a1a1a" stroke-width="0.2">0</text>
<text x="676.48" y="760.40" text-anchor="middle" font-size="12.5" fill="#1a1a1a" stroke="#1a1a1a" stroke-width="0.2">0</text>
<text x="160.30" y="787.70" text-anchor="middle" font-size="12.5" fill="#1a1a1a" stroke="#1a1a1a" stroke-width="0.2">30</text>
<text x="186.11" y="787.70" text-anchor="middle" font-size="12.5" fill="#1a1a1a" stroke="#1a1a1a" stroke-width="0.2">29</text>
<text x="211.92" y="788.40" text-anchor="middle" font-size="12.5" fill="#1a1a1a" stroke="#1a1a1a" stroke-width="0.2">28</text>
<text x="237.73" y="787.00" text-anchor="middle" font-size="12.5" fill="#1a1a1a" stroke="#1a1a1a" stroke-width="0.2">28</text>
<text x="263.54" y="787.70" text-anchor="middle" font-size="12.5" fill="#1a1a1a" stroke="#1a1a1a" stroke-width="0.2">27</text>
<text x="289.35" y="787.70" text-anchor="middle" font-size="12.5" fill="#1a1a1a" stroke="#1a1a1a" stroke-width="0.2">25</text>
<text x="315.15" y="787.30" text-anchor="middle" font-size="12.5" fill="#1a1a1a" stroke="#1a1a1a" stroke-width="0.2">24</text>
<text x="340.96" y="786.60" text-anchor="middle" font-size="12.5" fill="#1a1a1a" stroke="#1a1a1a" stroke-width="0.2">23</text>
<text x="366.77" y="787.70" text-anchor="middle" font-size="12.5" fill="#1a1a1a" stroke="#1a1a1a" stroke-width="0.2">23</text>
<text x="392.58" y="788.10" text-anchor="middle" font-size="12.5" fill="#1a1a1a" stroke="#1a1a1a" stroke-width="0.2">22</text>
<text x="418.39" y="787.70" text-anchor="middle" font-size="12.5" fill="#1a1a1a" stroke="#1a1a1a" stroke-width="0.2">22</text>
<text x="444.20" y="788.10" text-anchor="middle" font-size="12.5" fill="#1a1a1a" stroke="#1a1a1a" stroke-width="0.2">22</text>
<text x="470.01" y="787.90" text-anchor="middle" font-size="12.5" fill="#1a1a1a" stroke="#1a1a1a" stroke-width="0.2">22</text>
<text x="495.82" y="787.90" text-anchor="middle" font-size="12.5" fill="#1a1a1a" stroke="#1a1a1a" stroke-width="0.2">21</text>
<text x="521.63" y="789.60" text-anchor="middle" font-size="12.5" fill="#1a1a1a" stroke="#1a1a1a" stroke-width="0.2">20</text>
<text x="547.43" y="786.90" text-anchor="middle" font-size="12.5" fill="#1a1a1a" stroke="#1a1a1a" stroke-width="0.2">19</text>
<text x="573.24" y="787.90" text-anchor="middle" font-size="12.5" fill="#1a1a1a" stroke="#1a1a1a" stroke-width="0.2">18</text>
<text x="599.05" y="787.90" text-anchor="middle" font-size="12.5" fill="#1a1a1a" stroke="#1a1a1a" stroke-width="0.2">17</text>
<text x="624.86" y="788.90" text-anchor="middle" font-size="12.5" fill="#1a1a1a" stroke="#1a1a1a" stroke-width="0.2">16</text>
<text x="650.67" y="787.90" text-anchor="middle" font-size="12.5" fill="#1a1a1a" stroke="#1a1a1a" stroke-width="0.2">15</text>
<text x="676.48" y="788.90" text-anchor="middle" font-size="12.5" fill="#1a1a1a" stroke="#1a1a1a" stroke-width="0.2">15</text>
<text x="129.5" y="758.00" text-anchor="end" font-size="12.65" fill="#E8468A" stroke="#E8468A" stroke-width="0.2">log10TRECs &lt; 0.4</text>
<text x="129.5" y="786.90" text-anchor="end" font-size="12.65" fill="#F6B220" stroke="#F6B220" stroke-width="0.2">log10TRECs &gt;= 0.4</text>
<text transform="translate(10.1,769.50) rotate(-90)" text-anchor="middle" font-size="12.65" fill="#1a1a1a" stroke="#1a1a1a" stroke-width="0.2">Strata</text>
<text x="276.0" y="837.5" font-size="12.65" fill="#1a1a1a" stroke="#1a1a1a" stroke-width="0.2">Time (months) up to 5 years (landmark at 12M)</text>
<text x="-0.7" y="873.6" font-size="22" font-weight="bold" fill="#000" stroke="#000" stroke-width="0.2">c</text>
<path d="M147.40,867.7V1110.3M173.20,867.7V1110.3M199.01,867.7V1110.3M224.82,867.7V1110.3M250.63,867.7V1110.3M276.44,867.7V1110.3M302.25,867.7V1110.3M328.06,867.7V1110.3M353.87,867.7V1110.3M379.68,867.7V1110.3M405.49,867.7V1110.3M431.29,867.7V1110.3M457.10,867.7V1110.3M482.91,867.7V1110.3M508.72,867.7V1110.3M534.53,867.7V1110.3M560.34,867.7V1110.3M586.15,867.7V1110.3M611.96,867.7V1110.3M637.77,867.7V1110.3M663.58,867.7V1110.3M135.5,1071.44H684.4M135.5,1016.31H684.4M135.5,961.19H684.4M135.5,906.06H684.4" stroke="#F4F4F4" stroke-width="1" fill="none"/>
<path d="M160.30,867.7V1110.3M186.11,867.7V1110.3M211.92,867.7V1110.3M237.73,867.7V1110.3M263.54,867.7V1110.3M289.35,867.7V1110.3M315.15,867.7V1110.3M340.96,867.7V1110.3M366.77,867.7V1110.3M392.58,867.7V1110.3M418.39,867.7V1110.3M444.20,867.7V1110.3M470.01,867.7V1110.3M495.82,867.7V1110.3M521.63,867.7V1110.3M547.43,867.7V1110.3M573.24,867.7V1110.3M599.05,867.7V1110.3M624.86,867.7V1110.3M650.67,867.7V1110.3M676.48,867.7V1110.3M135.5,1099.00H684.4M135.5,1043.88H684.4M135.5,988.75H684.4M135.5,933.62H684.4M135.5,878.50H684.4" stroke="#EFEFEF" stroke-width="1" fill="none"/>
<g transform="translate(0,0)">
<path d="M160.30,878.60 L164.20,878.60 L164.20,891.40 L171.60,891.40 L171.60,903.20 L185.90,903.20 L185.90,915.40 L206.70,915.40 L206.70,927.60 L215.10,927.60 L215.10,940.00 L312.10,940.00 L312.10,954.40 L344.30,954.40 L344.30,970.40 L684.00,970.40" stroke="#E91E5F" stroke-width="1.3" fill="none"/>
<path d="M153.60,881.30 L160.20,881.30 L160.20,878.60 L175.20,878.60 L175.20,883.70 L177.40,883.70 L177.40,886.20 L193.60,886.20 L193.60,889.20 L239.50,889.20 L239.50,891.80 L241.70,891.80 L241.70,894.40 L278.60,894.40 L278.60,896.80 L328.80,896.80 L328.80,899.30 L376.60,899.30 L376.60,902.30 L410.60,902.30 L410.60,905.50 L455.30,905.50 L455.30,908.40 L560.80,908.40 L560.80,911.30 L573.40,911.30 L573.40,914.90 L684.00,914.90" stroke="#F6B220" stroke-width="1.3" fill="none"/>
<path d="M164.20,878.60 L171.60,878.60 L171.60,878.60 L185.90,878.60 L185.90,878.60 L206.70,878.60 L206.70,878.60 L215.10,878.60 L215.10,887.40 L312.10,887.40 L312.10,894.80 L344.30,894.80 L344.30,904.80 L684.00,904.80 L684.00,1013.40 L344.30,1013.40 L344.30,995.60 L312.10,995.60 L312.10,979.20 L215.10,979.20 L215.10,965.10 L206.70,965.10 L206.70,949.40 L185.90,949.40 L185.90,932.10 L171.60,932.10 L171.60,912.70 L164.20,912.70Z" fill="#DE0048" fill-opacity="0.3"/>
<path d="M175.20,878.60 L177.40,878.60 L177.40,878.60 L193.60,878.60 L193.60,878.80 L239.50,878.80 L239.50,880.50 L241.70,880.50 L241.70,881.20 L278.60,881.20 L278.60,883.70 L328.80,883.70 L328.80,885.40 L376.60,885.40 L376.60,887.40 L410.60,887.40 L410.60,889.40 L455.30,889.40 L455.30,891.70 L560.80,891.70 L560.80,893.40 L573.40,893.40 L573.40,896.40 L684.00,896.40 L684.00,931.40 L573.40,931.40 L573.40,927.80 L560.80,927.80 L560.80,923.60 L455.30,923.60 L455.30,919.70 L410.60,919.70 L410.60,915.90 L376.60,915.90 L376.60,912.70 L328.80,912.70 L328.80,908.50 L278.60,908.50 L278.60,904.80 L241.70,904.80 L241.70,902.50 L239.50,902.50 L239.50,898.50 L193.60,898.50 L193.60,894.60 L177.40,894.60 L177.40,890.20 L175.20,890.20Z" fill="#F6B220" fill-opacity="0.3"/>
<path d="M153.60,878.90 L160.20,878.90 L160.20,885.90 L153.60,885.90Z" fill="#F6B220" fill-opacity="0.3"/>
<path d="M273.70,937.70v4.6M271.40,940.00h4.6M308.40,937.70v4.6M306.10,940.00h4.6M330.40,952.10v4.6M328.10,954.40h4.6M413.10,968.10v4.6M410.80,970.40h4.6M462.70,968.10v4.6M460.40,970.40h4.6" stroke="#E91E5F" stroke-width="1.0" fill="none"/>
<path d="M265.50,892.10v4.6M263.20,894.40h4.6M267.20,892.10v4.6M264.90,894.40h4.6M303.50,894.50v4.6M301.20,896.80h4.6M367.20,897.00v4.6M364.90,899.30h4.6M385.80,900.00v4.6M383.50,902.30h4.6M387.50,900.00v4.6M385.20,902.30h4.6M393.20,900.00v4.6M390.90,902.30h4.6M438.60,903.20v4.6M436.30,905.50h4.6M460.20,906.10v4.6M457.90,908.40h4.6M494.40,906.10v4.6M492.10,908.40h4.6M503.90,906.10v4.6M501.60,908.40h4.6M538.40,906.10v4.6M536.10,908.40h4.6M553.30,906.10v4.6M551.00,908.40h4.6M575.20,912.60v4.6M572.90,914.90h4.6M579.40,912.60v4.6M577.10,914.90h4.6M590.70,912.60v4.6M588.40,914.90h4.6M605.10,912.60v4.6M602.80,914.90h4.6M626.10,912.60v4.6M623.80,914.90h4.6M660.50,912.60v4.6M658.20,914.90h4.6" stroke="#F6B220" stroke-width="1.0" fill="none"/>
</g>
<path d="M135.5,867.7H684.4" stroke="#D0D0D0" stroke-width="1"/>
<path d="M684.4,867.7V1110.3" stroke="#8C8C8C" stroke-width="1.3"/>
<path d="M135.5,867.7V1110.3H684.4" stroke="#8C8C8C" stroke-width="1.1" fill="none"/>
<text x="127.8" y="1103.50" text-anchor="end" font-size="12.5" fill="#1a1a1a" stroke="#1a1a1a" stroke-width="0.2">0.00</text>
<text x="127.8" y="1048.38" text-anchor="end" font-size="12.5" fill="#1a1a1a" stroke="#1a1a1a" stroke-width="0.2">0.25</text>
<text x="127.8" y="993.25" text-anchor="end" font-size="12.5" fill="#1a1a1a" stroke="#1a1a1a" stroke-width="0.2">0.50</text>
<text x="127.8" y="938.12" text-anchor="end" font-size="12.5" fill="#1a1a1a" stroke="#1a1a1a" stroke-width="0.2">0.75</text>
<text x="127.8" y="883.00" text-anchor="end" font-size="12.5" fill="#1a1a1a" stroke="#1a1a1a" stroke-width="0.2">1.00</text>
<text x="160.60" y="1126.6" text-anchor="middle" font-size="12.5" fill="#1a1a1a" stroke="#1a1a1a" stroke-width="0.2">0</text>
<text x="186.41" y="1126.6" text-anchor="middle" font-size="12.5" fill="#1a1a1a" stroke="#1a1a1a" stroke-width="0.2">3</text>
<text x="212.22" y="1126.6" text-anchor="middle" font-size="12.5" fill="#1a1a1a" stroke="#1a1a1a" stroke-width="0.2">6</text>
<text x="238.03" y="1126.6" text-anchor="middle" font-size="12.5" fill="#1a1a1a" stroke="#1a1a1a" stroke-width="0.2">9</text>
<text x="263.84" y="1126.6" text-anchor="middle" font-size="12.5" fill="#1a1a1a" stroke="#1a1a1a" stroke-width="0.2">12</text>
<text x="289.65" y="1126.6" text-anchor="middle" font-size="12.5" fill="#1a1a1a" stroke="#1a1a1a" stroke-width="0.2">15</text>
<text x="315.45" y="1126.6" text-anchor="middle" font-size="12.5" fill="#1a1a1a" stroke="#1a1a1a" stroke-width="0.2">18</text>
<text x="341.26" y="1126.6" text-anchor="middle" font-size="12.5" fill="#1a1a1a" stroke="#1a1a1a" stroke-width="0.2">21</text>
<text x="367.07" y="1126.6" text-anchor="middle" font-size="12.5" fill="#1a1a1a" stroke="#1a1a1a" stroke-width="0.2">24</text>
<text x="392.88" y="1126.6" text-anchor="middle" font-size="12.5" fill="#1a1a1a" stroke="#1a1a1a" stroke-width="0.2">27</text>
<text x="418.69" y="1126.6" text-anchor="middle" font-size="12.5" fill="#1a1a1a" stroke="#1a1a1a" stroke-width="0.2">30</text>
<text x="444.50" y="1126.6" text-anchor="middle" font-size="12.5" fill="#1a1a1a" stroke="#1a1a1a" stroke-width="0.2">33</text>
<text x="470.31" y="1126.6" text-anchor="middle" font-size="12.5" fill="#1a1a1a" stroke="#1a1a1a" stroke-width="0.2">36</text>
<text x="496.12" y="1126.6" text-anchor="middle" font-size="12.5" fill="#1a1a1a" stroke="#1a1a1a" stroke-width="0.2">39</text>
<text x="521.93" y="1126.6" text-anchor="middle" font-size="12.5" fill="#1a1a1a" stroke="#1a1a1a" stroke-width="0.2">42</text>
<text x="547.73" y="1126.6" text-anchor="middle" font-size="12.5" fill="#1a1a1a" stroke="#1a1a1a" stroke-width="0.2">45</text>
<text x="573.54" y="1126.6" text-anchor="middle" font-size="12.5" fill="#1a1a1a" stroke="#1a1a1a" stroke-width="0.2">48</text>
<text x="599.35" y="1126.6" text-anchor="middle" font-size="12.5" fill="#1a1a1a" stroke="#1a1a1a" stroke-width="0.2">51</text>
<text x="625.16" y="1126.6" text-anchor="middle" font-size="12.5" fill="#1a1a1a" stroke="#1a1a1a" stroke-width="0.2">54</text>
<text x="650.97" y="1126.6" text-anchor="middle" font-size="12.5" fill="#1a1a1a" stroke="#1a1a1a" stroke-width="0.2">57</text>
<text x="676.78" y="1126.6" text-anchor="middle" font-size="12.5" fill="#1a1a1a" stroke="#1a1a1a" stroke-width="0.2">60</text>
<path d="M132.8,1099.00H135.5M132.8,1043.88H135.5M132.8,988.75H135.5M132.8,933.62H135.5M132.8,878.50H135.5M160.30,1110.3v2.2M186.11,1110.3v2.2M211.92,1110.3v2.2M237.73,1110.3v2.2M263.54,1110.3v2.2M289.35,1110.3v2.2M315.15,1110.3v2.2M340.96,1110.3v2.2M366.77,1110.3v2.2M392.58,1110.3v2.2M418.39,1110.3v2.2M444.20,1110.3v2.2M470.01,1110.3v2.2M495.82,1110.3v2.2M521.63,1110.3v2.2M547.43,1110.3v2.2M573.24,1110.3v2.2M599.05,1110.3v2.2M624.86,1110.3v2.2M650.67,1110.3v2.2M676.48,1110.3v2.2" stroke="#8C8C8C" stroke-width="1" fill="none"/>
<text x="277.2" y="1145.1" font-size="12.65" fill="#1a1a1a" stroke="#1a1a1a" stroke-width="0.2">Time (months) up to 5 years (landmark at 12M)</text>
<text transform="translate(94.3,988.70) rotate(-90)" text-anchor="middle" font-size="12.65" fill="#1a1a1a" stroke="#1a1a1a" stroke-width="0.2">Survival probability</text>
<text x="191.7" y="1058.3" font-size="12.2" fill="#1a1a1a" stroke="#1a1a1a" stroke-width="0.2"><tspan font-style="italic">P</tspan> = 0.0014</text>
<text x="127.4" y="1159.9" font-size="12.65" fill="#1a1a1a" stroke="#1a1a1a" stroke-width="0.2">Number at risk</text>
<path d="M147.40,1169.2V1232.3M173.20,1169.2V1232.3M199.01,1169.2V1232.3M224.82,1169.2V1232.3M250.63,1169.2V1232.3M276.44,1169.2V1232.3M302.25,1169.2V1232.3M328.06,1169.2V1232.3M353.87,1169.2V1232.3M379.68,1169.2V1232.3M405.49,1169.2V1232.3M431.29,1169.2V1232.3M457.10,1169.2V1232.3M482.91,1169.2V1232.3M508.72,1169.2V1232.3M534.53,1169.2V1232.3M560.34,1169.2V1232.3M586.15,1169.2V1232.3M611.96,1169.2V1232.3M637.77,1169.2V1232.3M663.58,1169.2V1232.3" stroke="#F4F4F4" stroke-width="1" fill="none"/>
<path d="M160.30,1169.2V1232.3M186.11,1169.2V1232.3M211.92,1169.2V1232.3M237.73,1169.2V1232.3M263.54,1169.2V1232.3M289.35,1169.2V1232.3M315.15,1169.2V1232.3M340.96,1169.2V1232.3M366.77,1169.2V1232.3M392.58,1169.2V1232.3M418.39,1169.2V1232.3M444.20,1169.2V1232.3M470.01,1169.2V1232.3M495.82,1169.2V1232.3M521.63,1169.2V1232.3M547.43,1169.2V1232.3M573.24,1169.2V1232.3M599.05,1169.2V1232.3M624.86,1169.2V1232.3M650.67,1169.2V1232.3M676.48,1169.2V1232.3M135.5,1186.4H684.4M135.5,1215.4H684.4" stroke="#EFEFEF" stroke-width="1" fill="none"/>
<path d="M135.5,1169.2H684.4" stroke="#C4C4C4" stroke-width="1"/>
<path d="M684.4,1169.2V1232.3" stroke="#8C8C8C" stroke-width="1.3"/>
<path d="M135.5,1169.2V1232.3H684.4" stroke="#8C8C8C" stroke-width="1.1" fill="none"/>
<text x="160.60" y="1249.3" text-anchor="middle" font-size="12.5" fill="#1a1a1a" stroke="#1a1a1a" stroke-width="0.2">0</text>
<text x="186.41" y="1249.3" text-anchor="middle" font-size="12.5" fill="#1a1a1a" stroke="#1a1a1a" stroke-width="0.2">3</text>
<text x="212.22" y="1249.3" text-anchor="middle" font-size="12.5" fill="#1a1a1a" stroke="#1a1a1a" stroke-width="0.2">6</text>
<text x="238.03" y="1249.3" text-anchor="middle" font-size="12.5" fill="#1a1a1a" stroke="#1a1a1a" stroke-width="0.2">9</text>
<text x="263.84" y="1249.3" text-anchor="middle" font-size="12.5" fill="#1a1a1a" stroke="#1a1a1a" stroke-width="0.2">12</text>
<text x="289.65" y="1249.3" text-anchor="middle" font-size="12.5" fill="#1a1a1a" stroke="#1a1a1a" stroke-width="0.2">15</text>
<text x="315.45" y="1249.3" text-anchor="middle" font-size="12.5" fill="#1a1a1a" stroke="#1a1a1a" stroke-width="0.2">18</text>
<text x="341.26" y="1249.3" text-anchor="middle" font-size="12.5" fill="#1a1a1a" stroke="#1a1a1a" stroke-width="0.2">21</text>
<text x="367.07" y="1249.3" text-anchor="middle" font-size="12.5" fill="#1a1a1a" stroke="#1a1a1a" stroke-width="0.2">24</text>
<text x="392.88" y="1249.3" text-anchor="middle" font-size="12.5" fill="#1a1a1a" stroke="#1a1a1a" stroke-width="0.2">27</text>
<text x="418.69" y="1249.3" text-anchor="middle" font-size="12.5" fill="#1a1a1a" stroke="#1a1a1a" stroke-width="0.2">30</text>
<text x="444.50" y="1249.3" text-anchor="middle" font-size="12.5" fill="#1a1a1a" stroke="#1a1a1a" stroke-width="0.2">33</text>
<text x="470.31" y="1249.3" text-anchor="middle" font-size="12.5" fill="#1a1a1a" stroke="#1a1a1a" stroke-width="0.2">36</text>
<text x="496.12" y="1249.3" text-anchor="middle" font-size="12.5" fill="#1a1a1a" stroke="#1a1a1a" stroke-width="0.2">39</text>
<text x="521.93" y="1249.3" text-anchor="middle" font-size="12.5" fill="#1a1a1a" stroke="#1a1a1a" stroke-width="0.2">42</text>
<text x="547.73" y="1249.3" text-anchor="middle" font-size="12.5" fill="#1a1a1a" stroke="#1a1a1a" stroke-width="0.2">45</text>
<text x="573.54" y="1249.3" text-anchor="middle" font-size="12.5" fill="#1a1a1a" stroke="#1a1a1a" stroke-width="0.2">48</text>
<text x="599.35" y="1249.3" text-anchor="middle" font-size="12.5" fill="#1a1a1a" stroke="#1a1a1a" stroke-width="0.2">51</text>
<text x="625.16" y="1249.3" text-anchor="middle" font-size="12.5" fill="#1a1a1a" stroke="#1a1a1a" stroke-width="0.2">54</text>
<text x="650.97" y="1249.3" text-anchor="middle" font-size="12.5" fill="#1a1a1a" stroke="#1a1a1a" stroke-width="0.2">57</text>
<text x="676.78" y="1249.3" text-anchor="middle" font-size="12.5" fill="#1a1a1a" stroke="#1a1a1a" stroke-width="0.2">60</text>
<path d="M132.8,1186.4H135.5M132.8,1215.4H135.5M160.30,1232.3v2.2M186.11,1232.3v2.2M211.92,1232.3v2.2M237.73,1232.3v2.2M263.54,1232.3v2.2M289.35,1232.3v2.2M315.15,1232.3v2.2M340.96,1232.3v2.2M366.77,1232.3v2.2M392.58,1232.3v2.2M418.39,1232.3v2.2M444.20,1232.3v2.2M470.01,1232.3v2.2M495.82,1232.3v2.2M521.63,1232.3v2.2M547.43,1232.3v2.2M573.24,1232.3v2.2M599.05,1232.3v2.2M624.86,1232.3v2.2M650.67,1232.3v2.2M676.48,1232.3v2.2" stroke="#8C8C8C" stroke-width="1" fill="none"/>
<text x="160.30" y="1187.00" text-anchor="middle" font-size="12.5" fill="#1a1a1a" stroke="#1a1a1a" stroke-width="0.2">18</text>
<text x="186.11" y="1187.00" text-anchor="middle" font-size="12.5" fill="#1a1a1a" stroke="#1a1a1a" stroke-width="0.2">15</text>
<text x="211.92" y="1187.00" text-anchor="middle" font-size="12.5" fill="#1a1a1a" stroke="#1a1a1a" stroke-width="0.2">14</text>
<text x="237.73" y="1187.00" text-anchor="middle" font-size="12.5" fill="#1a1a1a" stroke="#1a1a1a" stroke-width="0.2">13</text>
<text x="263.54" y="1187.00" text-anchor="middle" font-size="12.5" fill="#1a1a1a" stroke="#1a1a1a" stroke-width="0.2">13</text>
<text x="289.35" y="1186.00" text-anchor="middle" font-size="12.5" fill="#1a1a1a" stroke="#1a1a1a" stroke-width="0.2">12</text>
<text x="315.15" y="1187.00" text-anchor="middle" font-size="12.5" fill="#1a1a1a" stroke="#1a1a1a" stroke-width="0.2">10</text>
<text x="340.96" y="1187.00" text-anchor="middle" font-size="12.5" fill="#1a1a1a" stroke="#1a1a1a" stroke-width="0.2">9</text>
<text x="366.77" y="1186.00" text-anchor="middle" font-size="12.5" fill="#1a1a1a" stroke="#1a1a1a" stroke-width="0.2">8</text>
<text x="392.58" y="1188.00" text-anchor="middle" font-size="12.5" fill="#1a1a1a" stroke="#1a1a1a" stroke-width="0.2">8</text>
<text x="418.39" y="1187.00" text-anchor="middle" font-size="12.5" fill="#1a1a1a" stroke="#1a1a1a" stroke-width="0.2">7</text>
<text x="444.20" y="1187.00" text-anchor="middle" font-size="12.5" fill="#1a1a1a" stroke="#1a1a1a" stroke-width="0.2">7</text>
<text x="470.01" y="1187.00" text-anchor="middle" font-size="12.5" fill="#1a1a1a" stroke="#1a1a1a" stroke-width="0.2">6</text>
<text x="495.82" y="1187.00" text-anchor="middle" font-size="12.5" fill="#1a1a1a" stroke="#1a1a1a" stroke-width="0.2">6</text>
<text x="521.63" y="1187.00" text-anchor="middle" font-size="12.5" fill="#1a1a1a" stroke="#1a1a1a" stroke-width="0.2">6</text>
<text x="547.43" y="1186.00" text-anchor="middle" font-size="12.5" fill="#1a1a1a" stroke="#1a1a1a" stroke-width="0.2">6</text>
<text x="573.24" y="1187.00" text-anchor="middle" font-size="12.5" fill="#1a1a1a" stroke="#1a1a1a" stroke-width="0.2">6</text>
<text x="599.05" y="1187.00" text-anchor="middle" font-size="12.5" fill="#1a1a1a" stroke="#1a1a1a" stroke-width="0.2">6</text>
<text x="624.86" y="1187.00" text-anchor="middle" font-size="12.5" fill="#1a1a1a" stroke="#1a1a1a" stroke-width="0.2">6</text>
<text x="650.67" y="1187.00" text-anchor="middle" font-size="12.5" fill="#1a1a1a" stroke="#1a1a1a" stroke-width="0.2">6</text>
<text x="676.48" y="1187.00" text-anchor="middle" font-size="12.5" fill="#1a1a1a" stroke="#1a1a1a" stroke-width="0.2">6</text>
<text x="160.30" y="1215.00" text-anchor="middle" font-size="12.5" fill="#1a1a1a" stroke="#1a1a1a" stroke-width="0.2">84</text>
<text x="186.11" y="1215.00" text-anchor="middle" font-size="12.5" fill="#1a1a1a" stroke="#1a1a1a" stroke-width="0.2">82</text>
<text x="211.92" y="1215.00" text-anchor="middle" font-size="12.5" fill="#1a1a1a" stroke="#1a1a1a" stroke-width="0.2">81</text>
<text x="237.73" y="1216.00" text-anchor="middle" font-size="12.5" fill="#1a1a1a" stroke="#1a1a1a" stroke-width="0.2">81</text>
<text x="263.54" y="1216.00" text-anchor="middle" font-size="12.5" fill="#1a1a1a" stroke="#1a1a1a" stroke-width="0.2">79</text>
<text x="289.35" y="1215.00" text-anchor="middle" font-size="12.5" fill="#1a1a1a" stroke="#1a1a1a" stroke-width="0.2">76</text>
<text x="315.15" y="1215.00" text-anchor="middle" font-size="12.5" fill="#1a1a1a" stroke="#1a1a1a" stroke-width="0.2">74</text>
<text x="340.96" y="1215.00" text-anchor="middle" font-size="12.5" fill="#1a1a1a" stroke="#1a1a1a" stroke-width="0.2">73</text>
<text x="366.77" y="1215.00" text-anchor="middle" font-size="12.5" fill="#1a1a1a" stroke="#1a1a1a" stroke-width="0.2">73</text>
<text x="392.58" y="1214.00" text-anchor="middle" font-size="12.5" fill="#1a1a1a" stroke="#1a1a1a" stroke-width="0.2">69</text>
<text x="418.39" y="1215.00" text-anchor="middle" font-size="12.5" fill="#1a1a1a" stroke="#1a1a1a" stroke-width="0.2">67</text>
<text x="444.20" y="1215.00" text-anchor="middle" font-size="12.5" fill="#1a1a1a" stroke="#1a1a1a" stroke-width="0.2">66</text>
<text x="470.01" y="1216.00" text-anchor="middle" font-size="12.5" fill="#1a1a1a" stroke="#1a1a1a" stroke-width="0.2">64</text>
<text x="495.82" y="1214.00" text-anchor="middle" font-size="12.5" fill="#1a1a1a" stroke="#1a1a1a" stroke-width="0.2">63</text>
<text x="521.63" y="1215.00" text-anchor="middle" font-size="12.5" fill="#1a1a1a" stroke="#1a1a1a" stroke-width="0.2">62</text>
<text x="547.43" y="1215.00" text-anchor="middle" font-size="12.5" fill="#1a1a1a" stroke="#1a1a1a" stroke-width="0.2">61</text>
<text x="573.24" y="1215.00" text-anchor="middle" font-size="12.5" fill="#1a1a1a" stroke="#1a1a1a" stroke-width="0.2">58</text>
<text x="599.05" y="1215.00" text-anchor="middle" font-size="12.5" fill="#1a1a1a" stroke="#1a1a1a" stroke-width="0.2">55</text>
<text x="624.86" y="1215.00" text-anchor="middle" font-size="12.5" fill="#1a1a1a" stroke="#1a1a1a" stroke-width="0.2">54</text>
<text x="650.67" y="1215.00" text-anchor="middle" font-size="12.5" fill="#1a1a1a" stroke="#1a1a1a" stroke-width="0.2">53</text>
<text x="676.48" y="1215.00" text-anchor="middle" font-size="12.5" fill="#1a1a1a" stroke="#1a1a1a" stroke-width="0.2">52</text>
<text x="128.1" y="1185.80" text-anchor="end" font-size="12.65" fill="#E8468A" stroke="#E8468A" stroke-width="0.2">log10TRECs &lt; 0.4</text>
<text x="128.1" y="1213.90" text-anchor="end" font-size="12.65" fill="#F6B220" stroke="#F6B220" stroke-width="0.2">log10TRECs &gt;= 0.4</text>
<text transform="translate(10.1,1196.80) rotate(-90)" text-anchor="middle" font-size="12.65" fill="#1a1a1a" stroke="#1a1a1a" stroke-width="0.2">Strata</text>
<text x="279.2" y="1269.6" font-size="12.65" fill="#1a1a1a" stroke="#1a1a1a" stroke-width="0.2">Time (months) up to 5 years (landmark at 12M)</text>
</svg>
</body></html>
